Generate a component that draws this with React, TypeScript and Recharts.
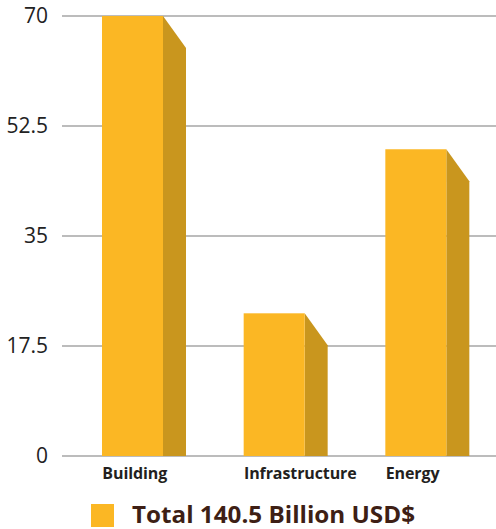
import React from "react";
import { BarChart, Bar, XAxis, YAxis, CartesianGrid, Legend } from "recharts";

const categories: string[] = ["Building", "Infrastructure", "Energy"];
const investment: number[] = [70, 22.7, 48.8];
const yTicks: number[] = [0, 17.5, 35, 52.5, 70];
const legendLabel = "Total 140.5 Billion USD$";

const chartData = categories.map((name, i) => ({ name, value: investment[i] }));

const FRONT = "#FBB724";
const SIDE = "#C9961E";
const DEPTH = 23;
const DROP = 32;

const Bar3D = (props: any) => {
  const { x, y, width, height } = props;
  if (!height || height <= 0) return null;
  const side = `${x + width},${y} ${x + width + DEPTH},${y + DROP} ${x + width + DEPTH},${y + height} ${x + width},${y + height}`;
  return (
    <g>
      <polygon points={side} fill={SIDE} />
      <rect x={x} y={y} width={width} height={height} fill={FRONT} />
    </g>
  );
};

const CategoryTick = (props: any) => {
  const { x, y, payload } = props;
  return (
    <text
      x={x - 30.5}
      y={y}
      dy={15}
      textAnchor="start"
      fontFamily="'Open Sans', sans-serif"
      fontWeight={700}
      fontSize={16}
      letterSpacing={-0.1}
      fill="#231F20"
    >
      {payload.value}
    </text>
  );
};

const LegendContent = () => (
  <svg width={496} height={43} style={{ display: "block" }}>
    <rect x={91} y={18} width={23} height={23} fill={FRONT} />
    <text
      x={132}
      y={37}
      fontFamily="'Open Sans', sans-serif"
      fontWeight={700}
      fontSize={23}
      textLength={283}
      lengthAdjust="spacingAndGlyphs"
      fill="#3E1F15"
    >
      {legendLabel}
    </text>
  </svg>
);

export default function App() {
  return (
    <div style={{ position: "absolute", left: 0, top: 0 }}>
      <BarChart
        width={496}
        height={529}
        data={chartData}
        margin={{ top: 16, right: 0, bottom: 0, left: 0 }}
      >
        <CartesianGrid vertical={false} stroke="#A6A6A6" strokeWidth={1.3} />
        <XAxis
          dataKey="name"
          axisLine={false}
          tickLine={false}
          height={30}
          padding={{ left: 0, right: 9 }}
          tick={<CategoryTick />}
          interval={0}
        />
        <YAxis
          domain={[0, 70]}
          ticks={yTicks}
          width={62}
          axisLine={false}
          tickLine={false}
          tickMargin={8}
          tick={{ fontFamily: "'Open Sans', sans-serif", fontSize: 21, fill: "#222" }}
        />
        <Legend
          verticalAlign="bottom"
          content={<LegendContent />}
          wrapperStyle={{ left: 0, width: 496, height: 43 }}
        />
        <Bar dataKey="value" barSize={61} shape={<Bar3D />} isAnimationActive={false} />
      </BarChart>
    </div>
  );
}
